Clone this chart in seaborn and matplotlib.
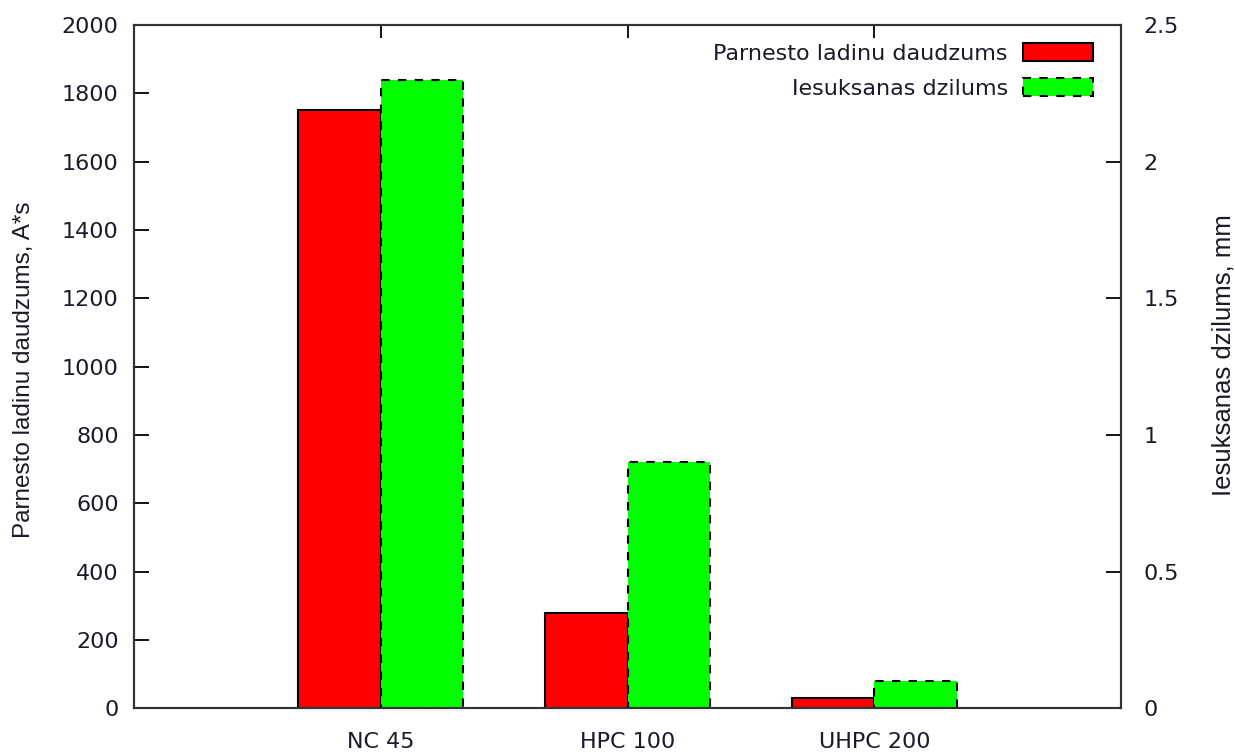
import matplotlib
matplotlib.use("Agg")
import matplotlib.pyplot as plt
from matplotlib.patches import Patch
import pandas as pd
import seaborn as sns

# Data
categories = ["NC 45", "HPC 100", "UHPC 200"]
charge_As = [1750, 280, 30]          # transferred charge, A*s (left axis)
depth_mm = [2.3, 0.9, 0.1]           # penetration depth, mm (right axis)
series_names = ["Parnesto ladinu daudzums", "Iesuksanas dzilums"]
left_ticks = [0, 200, 400, 600, 800, 1000, 1200, 1400, 1600, 1800, 2000]
right_ticks = [0, 0.5, 1, 1.5, 2, 2.5]
right_tick_labels = ["0", "0.5", "1", "1.5", "2", "2.5"]
left_label = "Parnesto ladinu daudzums, A*s"
right_label = "Iesuksanas dzilums, mm"

RED = "#ff0000"
GREEN = "#00ff00"
SPINE = "#333333"
TEXT = "#1a1a2a"
DASH = (0, (4, 4))

sns.set_theme(style="white")
plt.rcParams["font.family"] = ["DejaVu Sans"]

df_charge = pd.DataFrame({"cat": categories, "value": charge_As, "series": series_names[0]})
df_depth = pd.DataFrame({"cat": categories, "value": depth_mm, "series": series_names[1]})

fig = plt.figure(figsize=(12.35, 7.53), dpi=100)
ax1 = fig.add_axes([0.1085, 0.0594, 0.7992, 0.9074])
ax2 = ax1.twinx()

common = dict(x="cat", y="value", hue="series", hue_order=series_names,
              order=categories, palette=[RED, GREEN], width=2 / 3,
              dodge=True, errorbar=None, saturation=1, legend=False)

sns.barplot(data=df_charge, ax=ax1, edgecolor="black", linewidth=1.5, **common)
sns.barplot(data=df_depth, ax=ax2, edgecolor="black", linewidth=1.5,
            linestyle=DASH, **common)

ax1.set_xlim(-1, 3)
ax1.set_ylim(0, 2000)
ax2.set_ylim(0, 2.5)
ax1.set_yticks(left_ticks)
ax1.set_yticklabels([str(t) for t in left_ticks])
ax2.set_yticks(right_ticks)
ax2.set_yticklabels(right_tick_labels)
ax1.set_xlabel("")

for ax in (ax1, ax2):
    for sp in ax.spines.values():
        sp.set_visible(True)
        sp.set_color(SPINE)
        sp.set_linewidth(1.5)

ax1.tick_params(axis="y", direction="in", length=11, width=1.3, color="black",
                left=True, right=False, labelsize=16, labelcolor=TEXT, pad=11)
ax1.tick_params(axis="x", direction="in", length=9, width=1.3, color="black",
                bottom=True, top=True, labelsize=16, labelcolor=TEXT, pad=17)
ax2.tick_params(axis="y", direction="in", length=11, width=1.3, color="black",
                right=True, left=False, labelsize=16, labelcolor=TEXT, pad=16)

ax1.set_ylabel(left_label, fontsize=17.5, color=TEXT, family=["Liberation Sans"])
ax1.yaxis.label.set_va("center")
ax1.yaxis.set_label_coords(-0.111, 0.495)
ax2.set_ylabel(right_label, fontsize=18.5, color=TEXT, family=["Liberation Sans"])
ax2.yaxis.label.set_va("center")
ax2.yaxis.set_label_coords(1.104, 0.517)

handles = [
    Patch(facecolor=RED, edgecolor="black", linewidth=1.5),
    Patch(facecolor=GREEN, edgecolor="black", linewidth=1.5, linestyle=DASH),
]
leg = ax2.legend(handles, series_names, loc="upper right",
                 bbox_to_anchor=((1093 - 134) / 987, (708.3 - 43) / 683),
                 frameon=False, markerfirst=False, fontsize=16,
                 handlelength=3.15, handleheight=0.9, handletextpad=0.68,
                 labelspacing=0.65, borderpad=0, borderaxespad=0)
for t in leg.get_texts():
    t.set_color(TEXT)

fig.savefig("out.png", dpi=100)
